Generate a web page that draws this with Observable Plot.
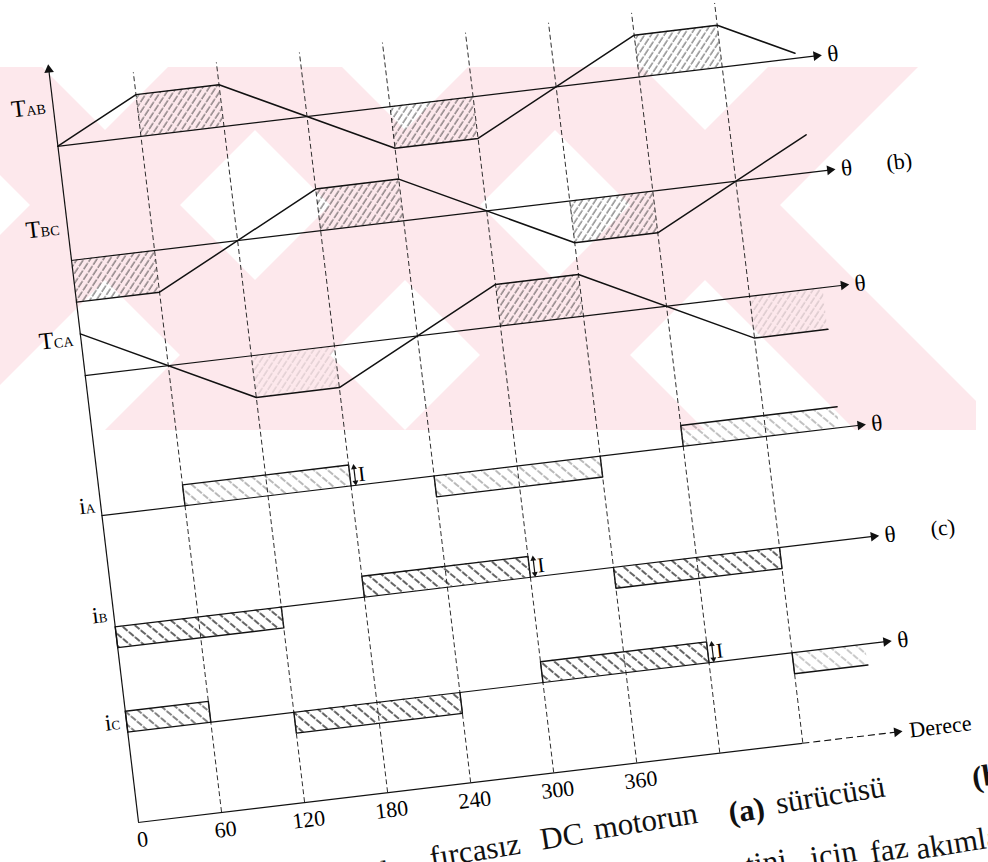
<!DOCTYPE html>
<html><head><meta charset="utf-8">
<script src="https://cdn.jsdelivr.net/npm/d3@7"></script>
<script src="https://cdn.jsdelivr.net/npm/@observablehq/plot@0.6"></script>
<style>
html,body{margin:0;padding:0;background:#fff;overflow:hidden;width:988px;height:862px;}
#wm{position:absolute;left:0;top:0;}
#chart{position:absolute;left:58px;top:32px;width:992px;height:900px;}
#chart svg{max-width:none !important;width:992px !important;height:900px !important;transform-origin:80px 790px;transform:rotate(-6.8deg);overflow:visible;background:transparent !important;}
</style></head><body>
<div id="wm"></div>
<div id="chart"></div>
<script>
// ---------- data ----------
const thetaTicks = [0, 60, 120, 180, 240, 300, 360];
const gridTheta = [60, 120, 180, 240, 300, 360, 420, 480];
// torque waveforms: breakpoints (degrees) and normalised level
const tabTheta = [0, 60, 120, 240, 300, 420, 480, 533];
const tabLevel = [0, 1, 1, -1, -1, 1, 1, 0.12];
const tbcTheta = [0, 60, 180, 240, 360, 420, 534];
const tbcLevel = [-1, -1, 1, 1, -1, -1, 0.9];
const tcaTheta = [0, 120, 180, 300, 360, 480, 533];
const tcaLevel = [1, -1, -1, 1, 1, -1, -1];
// hatched flat parts of torque [from, to, level]
const tabFlat = [[60, 120, 1], [240, 300, -1], [420, 480, 1]];
const tbcFlat = [[0, 60, -1], [180, 240, 1], [360, 420, -1]];
const tcaFlat = [[120, 180, -1], [300, 360, 1], [480, 533, -1]];
// phase current pulses [from, to, sign]
const iaPulses = [[60, 180, 1], [240, 360, -1], [420, 533, 1]];
const ibPulses = [[0, 120, -1], [180, 300, 1], [360, 480, -1]];
const icPulses = [[0, 60, 1], [120, 240, -1], [300, 420, 1], [480, 533, -1]];
const plotEnd = 533;                        // pulses reaching here are cut (no closing edge)
// "I" amplitude markers at end of a positive pulse
const iMarks = [["A", 180], ["B", 300], ["C", 420]];
const tickLabels = thetaTicks.map(String);
// caption fragments (cut by the page edge)
const caption1 = ["fırçasız", "DC", "motorun", "sürücüsü"];
const caption1Bold = ["(a)", "(b)"];
const caption1Cut = ["dalga"];
const caption2 = ["tini", "için", "faz", "akımları"];

// ---------- layout (rotated frame, 1 unit = 1 px vertically) ----------
const k = 892 / 640;                       // px per degree
const rowBase = {AB: 681, BC: 566, CA: 450, A: 309, B: 197, C: 91};
const ampT = 42, ampI = 21;
const axisEnd = 551;
const faintT = {CA: [0.25, 1, 0.3]};
const faintI = {A: [0.45, 0.45, 0.4], C: [0.8, 1, 1, 0.35]};
const cap1Pos = [[285, -70], [397, -65], [451, -61], [635, -57]];   // [u px, v] word starts
const cap1BoldPos = [[587, -61], [833, -55]];
const cap1CutPos = [[273, -77]];                                     // word end
const cap2Pos = [[598, -115], [663, -115], [723, -117], [769, -119]];

const torques = [["AB", tabTheta, tabLevel], ["BC", tbcTheta, tbcLevel], ["CA", tcaTheta, tcaLevel]];
const torquePts = torques.flatMap(([key, th, lv]) => th.map((t, i) => ({row: key, x: t, y: rowBase[key] + lv[i] * ampT})));
const flats = [["AB", tabFlat], ["BC", tbcFlat], ["CA", tcaFlat]].flatMap(([key, arr]) =>
  arr.map(([a, b, l], i) => ({x1: a, x2: b, y1: rowBase[key], y2: rowBase[key] + l * ampT,
    op: (faintT[key] ? faintT[key][i] : 1)})));
const pulses = [["A", iaPulses], ["B", ibPulses], ["C", icPulses]].flatMap(([key, arr]) =>
  arr.map(([a, b, s], i) => ({id: key + i, x1: a, x2: b, y1: rowBase[key], y2: rowBase[key] + s * ampI,
    op: (faintI[key] ? faintI[key][i] : 1)})));
const pulseOutline = pulses.flatMap(p => {
  const pts = [[p.x1, p.y1], [p.x1, p.y2], [p.x2, p.y2]];
  if (p.x2 < plotEnd) pts.push([p.x2, p.y1]);
  return pts.map(([x, y]) => ({id: p.id, x, y}));
});
const baseRows = Object.keys(rowBase).map(key => ({key, y: rowBase[key]}));
const serif = "Liberation Serif";
const place = (words, pos) => words.map((w, i) => ({w, x: pos[i][0] / k, y: pos[i][1]}));

const tLabels = [["T", "AB", 723], ["T", "BC", 601], ["T", "CA", 489]];
const iLabels = [["i", "A", 321], ["i", "B", 211], ["i", "C", 103]];
const capStyle = {x: "x", y: "y", text: "w", lineAnchor: "middle", rotate: -2.3, fontSize: 31, fontFamily: serif, fill: "#111"};

const chart = Plot.plot({
  width: 992, height: 900,
  marginLeft: 80, marginRight: 20, marginTop: 10, marginBottom: 110,
  x: {domain: [0, 640], axis: null},
  y: {domain: [0, 780], axis: null},
  style: {background: "transparent"},
  marks: [
    Plot.rect(flats, {x1: "x1", x2: "x2", y1: "y1", y2: "y2", fill: "url(#hatchT)", fillOpacity: "op"}),
    Plot.rect(pulses, {x1: "x1", x2: "x2", y1: "y1", y2: "y2", fill: "url(#hatchI)", fillOpacity: "op"}),
    Plot.line(pulseOutline, {x: "x", y: "y", z: "id", stroke: "#111", strokeWidth: 1.4}),
    Plot.ruleX(gridTheta, {y1: 0, y2: 745, stroke: "#222", strokeWidth: 0.9, strokeDasharray: "5,3"}),
    Plot.ruleX([0], {y1: 0, y2: 760, stroke: "#111", strokeWidth: 1.2}),
    Plot.dot([0], {x: d => d, y: 758, symbol: "triangle", r: 3.6, fill: "#111", stroke: null}),
    Plot.ruleY(baseRows, {y: "y", x1: 0, x2: axisEnd, stroke: "#111", strokeWidth: 1.2}),
    Plot.dot(baseRows, {x: axisEnd - 3, y: "y", symbol: "triangle", rotate: 90, r: 3.6, fill: "#111", stroke: null}),
    Plot.ruleY([0], {x1: 0, x2: 480, stroke: "#111", strokeWidth: 1.2}),
    Plot.ruleY([0], {x1: 480, x2: axisEnd, stroke: "#111", strokeWidth: 1.1, strokeDasharray: "7,4"}),
    Plot.dot([0], {x: axisEnd - 3, y: d => d, symbol: "triangle", rotate: 90, r: 3.6, fill: "#111", stroke: null}),
    Plot.line(torquePts, {x: "x", y: "y", z: "row", stroke: "#111", strokeWidth: 1.5}),
    Plot.ruleX(iMarks, {x: d => d[1] + 3.5, y1: d => rowBase[d[0]] + 3, y2: d => rowBase[d[0]] + ampI - 3, stroke: "#111", strokeWidth: 1.2}),
    Plot.dot(iMarks, {x: d => d[1] + 3.5, y: d => rowBase[d[0]] + ampI - 3, symbol: "triangle", r: 2.2, fill: "#111", stroke: null}),
    Plot.dot(iMarks, {x: d => d[1] + 3.5, y: d => rowBase[d[0]] + 3, symbol: "triangle", rotate: 180, r: 2.2, fill: "#111", stroke: null}),
    Plot.text(iMarks, {x: d => d[1] + 6, y: d => rowBase[d[0]] + ampI / 2, text: () => "I", textAnchor: "start", lineAnchor: "middle", fontSize: 21, fontFamily: serif}),
    Plot.text(tLabels, {x: -19.5, y: d => d[2] - 8, text: d => d[0], textAnchor: "end", lineAnchor: "bottom", fontSize: 24, fontFamily: serif}),
    Plot.text(tLabels, {x: -19.5, y: d => d[2] - 8, text: d => d[1], textAnchor: "start", lineAnchor: "bottom", fontSize: 14, fontFamily: serif}),
    Plot.text(iLabels, {x: -11, y: d => d[2] - 8, text: d => d[0], textAnchor: "end", lineAnchor: "bottom", fontSize: 23, fontFamily: serif}),
    Plot.text(iLabels, {x: -11, y: d => d[2] - 8, text: d => d[1], textAnchor: "start", lineAnchor: "bottom", fontSize: 13, fontFamily: serif}),
    Plot.text(baseRows, {x: axisEnd + 5, y: "y", text: () => "θ", textAnchor: "start", lineAnchor: "middle", fontSize: 23, fontFamily: serif}),
    Plot.text([["(b)", rowBase.BC], ["(c)", rowBase.B]], {x: 598, y: d => d[1], text: d => d[0], lineAnchor: "middle", fontSize: 22, fontFamily: serif}),
    Plot.text(["Derece"], {x: axisEnd + 6, y: 0, text: d => d, textAnchor: "start", lineAnchor: "middle", fontSize: 22, fontFamily: serif}),
    Plot.axisX(thetaTicks, {anchor: "bottom", tickSize: 0, tickPadding: 9, dx: 2, fontSize: 22, fontFamily: serif, tickFormat: (d, i) => tickLabels[i], label: null}),
    Plot.text(place(caption1, cap1Pos), {...capStyle, textAnchor: "start"}),
    Plot.text(place(caption1Bold, cap1BoldPos), {...capStyle, textAnchor: "start", fontWeight: "bold"}),
    Plot.text(place(caption1Cut, cap1CutPos), {...capStyle, textAnchor: "end"}),
    Plot.text(place(caption2, cap2Pos), {...capStyle, textAnchor: "start"})
  ]
});

// hatch patterns
const defs = d3.select(chart).insert("defs", ":first-child");
const pT = defs.append("pattern").attr("id", "hatchT").attr("patternUnits", "userSpaceOnUse")
  .attr("width", 5.5).attr("height", 9).attr("patternTransform", "rotate(40)");
pT.append("line").attr("x1", 1).attr("y1", 0).attr("x2", 1).attr("y2", 9)
  .attr("stroke", "#222").attr("stroke-width", 0.8).attr("stroke-dasharray", "4,1.5");
const pI = defs.append("pattern").attr("id", "hatchI").attr("patternUnits", "userSpaceOnUse")
  .attr("width", 9).attr("height", 8).attr("patternTransform", "rotate(-43)");
pI.append("line").attr("x1", 1).attr("y1", 0).attr("x2", 1).attr("y2", 8)
  .attr("stroke", "#111").attr("stroke-width", 1.3).attr("stroke-dasharray", "5,1.5");
document.getElementById("chart").appendChild(chart);

// ---------- watermark (page decoration, not data) ----------
const wmPink = "#fde8ec";
const wmTop = 67, wmBot = 430, wmW = 150;
const backStripes = [-100, 200, 500];      // "\" stripes, x - y
const fwdStripes = [10, 310, 610, 910];     // "/" stripes, x + y
const wm = d3.select("#wm").append("svg").attr("width", 988).attr("height", 862);
wm.append("clipPath").attr("id", "wmclip").append("rect").attr("x", 0).attr("y", wmTop).attr("width", 976).attr("height", wmBot - wmTop);
const g = wm.append("g").attr("clip-path", "url(#wmclip)").attr("fill", wmPink);
backStripes.forEach(d => g.append("polygon").attr("points",
  [[d + wmTop - wmW / 2, wmTop], [d + wmTop + wmW / 2, wmTop], [d + wmBot + wmW / 2, wmBot], [d + wmBot - wmW / 2, wmBot]].join(" ")));
fwdStripes.forEach(s => g.append("polygon").attr("points",
  [[s - wmTop - wmW / 2, wmTop], [s - wmTop + wmW / 2, wmTop], [s - wmBot + wmW / 2, wmBot], [s - wmBot - wmW / 2, wmBot]].join(" ")));
</script>
</body></html>
